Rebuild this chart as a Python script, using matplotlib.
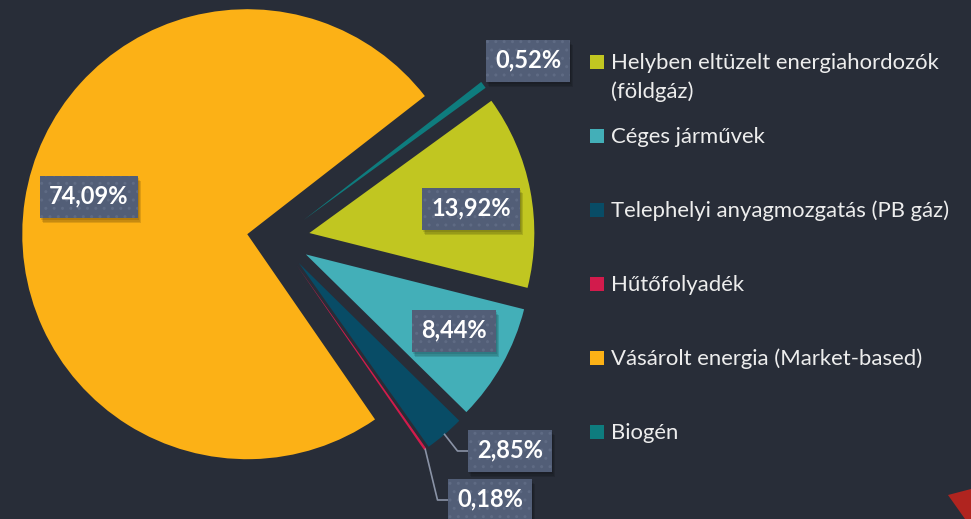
import numpy as np
import matplotlib
matplotlib.use('Agg')
import matplotlib.pyplot as plt
from matplotlib.patches import Rectangle, Polygon

# data
categories = ['Helyben eltüzelt energiahordozók\n(földgáz)', 'Céges járművek',
              'Telephelyi anyagmozgatás (PB gáz)', 'Hűtőfolyadék',
              'Vásárolt energia (Market-based)', 'Biogén']
values = [13.92, 8.44, 2.85, 0.18, 74.09, 0.52]
value_labels = ['13,92%', '8,44%', '2,85%', '0,18%', '74,09%', '0,52%']
colors = ['#C1C621', '#43AFB8', '#084C66', '#D21B4C', '#FCB116', '#0E7C7E']

# label box centres in pixels (top-left origin), and which ones get a leader line
label_pos = [(471, 209), (454, 331), (510, 451), (490, 500), (89, 197), (528, 61)]
leader = [False, False, True, True, False, False]

W, H = 971, 519
bg = '#282D38'
box_col = '#525E77'

fig = plt.figure(figsize=(W / 100, H / 100), dpi=100, facecolor=bg)
ax = fig.add_axes([0, 0, 1, 1])
ax.set_facecolor(bg)

cx, cy, R = 278.4, H - 239, 225
# explode is in data units here (pixels)
wedges, _ = ax.pie(values, colors=colors, startangle=36, counterclock=False,
                   explode=[31.5] * len(values), radius=R, center=(cx, cy),
                   wedgeprops=dict(linewidth=0))
ax.set_xlim(0, W)
ax.set_ylim(0, H)
ax.set_aspect('equal')
ax.axis('off')

# percentage boxes
for w, lab, (px, py), ld in zip(wedges, value_labels, label_pos, leader):
    bw, bh = 14 * len(lab) + 14, 42
    x0, y0 = px - bw / 2, H - py - bh / 2
    for k, a in enumerate([0.10, 0.10, 0.12]):
        ax.add_patch(Rectangle((x0 + 1 + k, y0 - 2 - k * 1.5), bw, bh,
                               facecolor='black', alpha=a, lw=0, zorder=4))
    ax.add_patch(Rectangle((x0, y0), bw, bh, facecolor=box_col, lw=0, zorder=5))
    ax.add_patch(Rectangle((x0, y0), bw, bh, facecolor='none', edgecolor='#5F6B84',
                           hatch='..', lw=0, zorder=5))
    ax.text(px, H - py + 1, lab, color='white', fontsize=17, fontweight='bold',
            family='Lato', ha='center', va='center', zorder=6)
    if ld:
        mid = np.deg2rad((w.theta1 + w.theta2) / 2)
        ox, oy = w.center
        sx, sy = ox + w.r * np.cos(mid), oy + w.r * np.sin(mid)
        ax.plot([sx, x0 - 10.5, x0], [sy, H - py, H - py], color='#8A93A6',
                lw=1.2, zorder=3)

# legend
leg_y = [62, 136, 210, 284, 358, 432]
for cat, col, ly in zip(categories, colors, leg_y):
    ax.add_patch(Rectangle((590, H - ly - 7), 14, 14, facecolor=col, lw=0))
    for i, line in enumerate(cat.split('\n')):
        ax.text(611, H - ly - 7 - i * 29.5, line, color='#EDEDED', fontsize=15.9,
                family='Lato', ha='left', va='baseline')

# red decoration in the corner
ax.add_patch(Polygon([(948, H - 495), (971, H - 489), (971, 0), (965, 0)],
                     closed=True, facecolor='#B0241F', lw=0))

fig.savefig('out.png', dpi=100, facecolor=bg)
